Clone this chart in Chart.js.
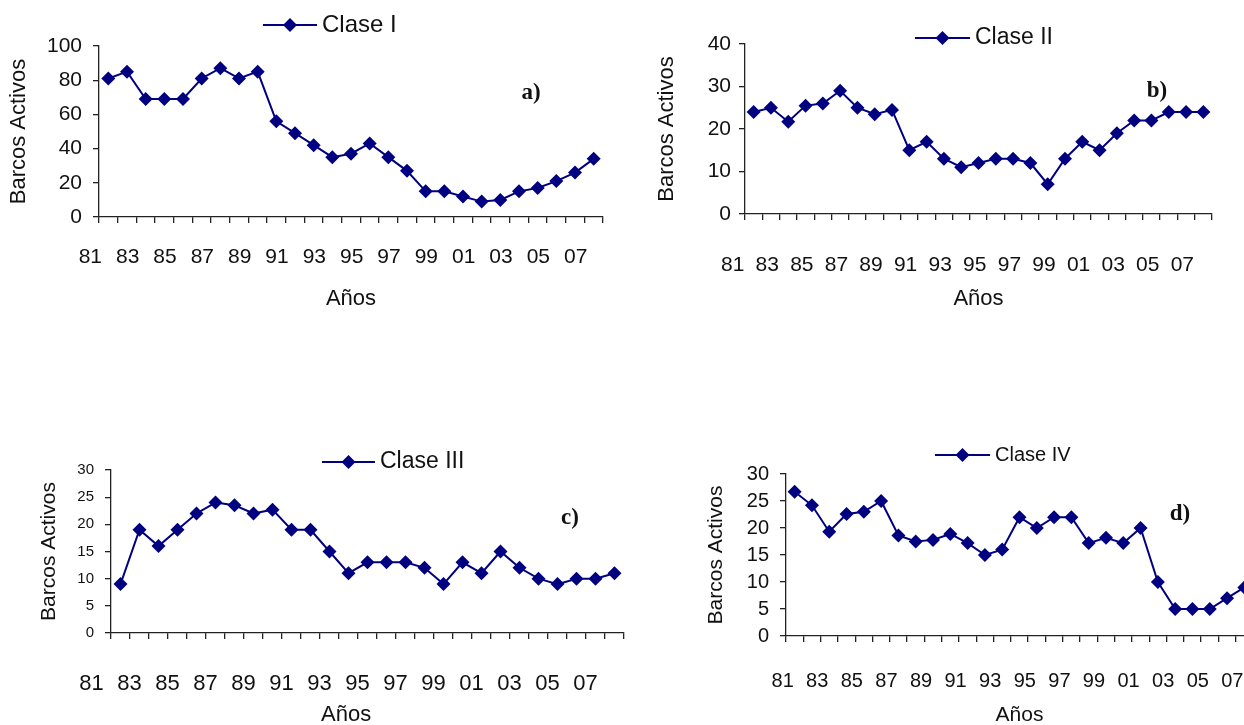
<!DOCTYPE html>
<html>
<head>
<meta charset="utf-8">
<script src="https://cdn.jsdelivr.net/npm/chart.js@4.4.1/dist/chart.umd.min.js"></script>
<style>
  html, body { margin: 0; padding: 0; background: #fff; overflow: hidden; width: 1244px; height: 725px; }
  .box { position: absolute; }
</style>
</head>
<body>
<div class="box" style="left:0px;top:0px;width:622px;height:320px"><canvas id="cA" width="622" height="320"></canvas></div>
<div class="box" style="left:640px;top:0px;width:604px;height:320px"><canvas id="cB" width="604" height="320"></canvas></div>
<div class="box" style="left:0px;top:440px;width:640px;height:295px"><canvas id="cC" width="640" height="295"></canvas></div>
<div class="box" style="left:690px;top:440px;width:600px;height:295px"><canvas id="cD" width="600" height="295"></canvas></div>
<script>
// years 1981-2007, shown as two digits
const years = ["81","82","83","84","85","86","87","88","89","90","91","92","93","94",
  "95","96","97","98","99","00","01","02","03","04","05","06","07"];

const claseI = [81, 85, 69, 69, 69, 81, 87, 81, 85, 56, 49, 42, 35, 37, 43, 35, 27,
  15, 15, 12, 9, 10, 15, 17, 21, 26, 34];
const claseII = [24, 25, 21.7, 25.5, 26, 29, 25, 23.5, 24.5, 15, 17, 13, 11, 12, 13, 13, 12,
  7, 13, 17, 15, 19, 22, 22, 24, 24, 24];
const claseIII = [9, 19, 16, 19, 22, 24, 23.5, 22, 22.7, 19, 19, 15, 11, 13, 13, 13, 12,
  9, 13, 11, 15, 12, 10, 9, 10, 10, 11];
const claseIV = [26.7, 24.2, 19.3, 22.6, 23, 25, 18.6, 17.5, 17.8, 18.9, 17.2, 15, 16, 22, 20, 22, 22,
  17.2, 18.2, 17.2, 20, 10, 5, 5, 5, 7, 9];

const ticksI = [0, 20, 40, 60, 80, 100];
const ticksII = [0, 10, 20, 30, 40];
const ticksIII = [0, 5, 10, 15, 20, 25, 30];
const ticksIV = [0, 5, 10, 15, 20, 25, 30];

const navy = "#000080";
const axisColor = "#222";
const sans = "'Liberation Sans', Arial, sans-serif";

// legend (line + diamond) and the panel letter, drawn on top
const extras = {
  id: "extras",
  afterDraw(chart, args, o) {
    const ctx = chart.ctx;
    ctx.save();
    ctx.strokeStyle = navy;
    ctx.lineWidth = 2;
    ctx.beginPath();
    ctx.moveTo(o.legX1, o.legY);
    ctx.lineTo(o.legX2, o.legY);
    ctx.stroke();
    const cx = (o.legX1 + o.legX2) / 2;
    ctx.fillStyle = navy;
    ctx.beginPath();
    ctx.moveTo(cx, o.legY - 7);
    ctx.lineTo(cx + 7, o.legY);
    ctx.lineTo(cx, o.legY + 7);
    ctx.lineTo(cx - 7, o.legY);
    ctx.closePath();
    ctx.fill();
    ctx.fillStyle = "#111";
    ctx.font = o.legFont + "px " + sans;
    ctx.textBaseline = "middle";
    ctx.textAlign = "left";
    ctx.fillText(o.legText, o.legX2 + 5, o.legY);
    ctx.font = "bold 23px 'Liberation Serif', 'Times New Roman', serif";
    ctx.textAlign = "center";
    ctx.fillText(o.panel, o.panelX, o.panelY);
    ctx.restore();
  }
};

function makeChart(id, values, yTicks, s) {
  const ctx = document.getElementById(id).getContext("2d");
  return new Chart(ctx, {
    type: "line",
    data: {
      labels: years,
      datasets: [{
        data: values,
        borderColor: navy,
        backgroundColor: navy,
        borderWidth: 2,
        pointStyle: "rectRot",
        pointRadius: 7,
        pointBorderWidth: 0,
        tension: 0
      }]
    },
    options: {
      responsive: false,
      animation: false,
      layout: { padding: { left: 0, top: s.padTop, right: s.padRight, bottom: 0 } },
      plugins: {
        legend: { display: false },
        tooltip: { enabled: false },
        extras: s.extras
      },
      scales: {
        x: {
          type: "category",
          offset: true,
          afterFit: (sc) => {
            sc.height = s.xHeight;
            // tick padding is only meant vertically here
            sc.paddingLeft = 0;
            sc.paddingRight = 0;
          },
          border: { display: true, color: axisColor, width: 1.3 },
          grid: { display: true, offset: true, drawOnChartArea: false, drawTicks: true,
            tickLength: 6, color: axisColor, lineWidth: 1.3 },
          ticks: {
            autoSkip: false, maxRotation: 0, minRotation: 0,
            padding: s.xTickPad, labelOffset: s.labelOffset, color: "#111",
            font: { family: sans, size: s.xTickSize },
            callback: (v, i) => (i % 2 === 0 ? years[i] : "")
          },
          title: { display: true, text: s.xTitle || "Años", color: "#111",
            font: { family: sans, size: s.xTitleSize }, padding: { top: 0, bottom: s.xTitlePad } }
        },
        y: {
          min: yTicks[0],
          max: yTicks[yTicks.length - 1],
          afterFit: (sc) => { sc.width = s.yWidth; },
          afterBuildTicks: (sc) => { sc.ticks = yTicks.map((v) => ({ value: v })); },
          border: { display: true, color: axisColor, width: 1.3 },
          grid: { display: true, drawOnChartArea: false, drawTicks: true,
            tickLength: 6, color: axisColor, lineWidth: 1.3 },
          ticks: { padding: s.yTickPad, color: "#111",
            font: { family: s.yTickFamily || sans, size: s.yTickSize } },
          title: { display: true, text: "Barcos Activos", color: "#111",
            font: { family: sans, size: s.yTitleSize }, padding: { top: s.yTitlePad, bottom: 0 } }
        }
      }
    },
    plugins: [extras]
  });
}

makeChart("cA", claseI, ticksI, {
  padTop: 46, padRight: 19, xHeight: 103, yWidth: 99,
  xTickPad: 22, labelOffset: -18, xTickSize: 21, xTitleSize: 22, xTitlePad: 8,
  yTickPad: 11, yTickSize: 21, yTitleSize: 22, yTitlePad: 6,
  extras: { legX1: 263, legX2: 317, legY: 25, legText: "Clase I", legFont: 24,
    panel: "a)", panelX: 531, panelY: 93 }
});

makeChart("cB", claseII, ticksII, {
  padTop: 44, padRight: 32, xHeight: 106, yWidth: 105,
  xTickPad: 33, labelOffset: -21, xTickSize: 21, xTitleSize: 22, xTitlePad: 8,
  yTickPad: 8, yTickSize: 21, yTitleSize: 22, yTitlePad: 14,
  extras: { legX1: 275, legX2: 330, legY: 38, legText: "Clase II", legFont: 23,
    panel: "b)", panelX: 517, panelY: 91 }
});

makeChart("cC", claseIII, ticksIII, {
  padTop: 30, padRight: 16, xHeight: 102, yWidth: 111,
  xTickPad: 32, labelOffset: -29, xTickSize: 22, xTitleSize: 22, xTitlePad: 7,
  // trailing no-break spaces nudge the centred title left, as in the original
  xTitle: "Años\u00a0\u00a0\u00a0\u00a0\u00a0\u00a0\u00a0",
  yTickPad: 11, yTickSize: 15, yTickFamily: "'Liberation Sans Narrow', 'Liberation Sans', Arial, sans-serif",
  yTitleSize: 21, yTitlePad: 37,
  extras: { legX1: 322, legX2: 375, legY: 22, legText: "Clase III", legFont: 23,
    panel: "c)", panelX: 570, panelY: 78 }
});

makeChart("cD", claseIV, ticksIV, {
  padTop: 34, padRight: 37, xHeight: 99, yWidth: 96,
  xTickPad: 27, labelOffset: -12, xTickSize: 20, xTitleSize: 21, xTitlePad: 7,
  yTickPad: 11, yTickSize: 20, yTitleSize: 21, yTitlePad: 14,
  extras: { legX1: 245, legX2: 300, legY: 15, legText: "Clase IV", legFont: 20,
    panel: "d)", panelX: 490, panelY: 74 }
});
</script>
</body>
</html>
